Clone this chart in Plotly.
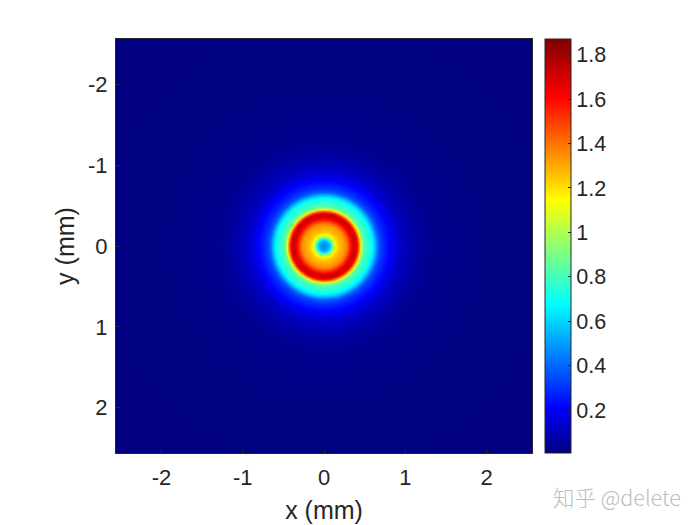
import numpy as np
import plotly.graph_objects as go

# Radial intensity profile
radius_mm = [0, 0.05, 0.074, 0.099, 0.123, 0.148, 0.172, 0.222, 0.271, 0.308, 0.345, 0.382, 0.406, 0.431, 0.45, 0.468, 0.493, 0.542, 0.591, 0.628, 0.665, 0.714, 0.80, 0.887, 0.985, 1.11, 1.232, 1.478, 1.97, 4.0]
intensity = [0.47, 0.50, 0.60, 0.82, 1.05, 1.17, 1.24, 1.30, 1.36, 1.50, 1.65, 1.72, 1.66, 1.40, 1.15, 0.95, 0.82, 0.76, 0.68, 0.55, 0.38, 0.30, 0.22, 0.15, 0.10, 0.07, 0.04, 0.025, 0.012, 0.008]

axis_ticks = [-2, -1, 0, 1, 2]
axis_labels = ["-2", "-1", "0", "1", "2"]
colorbar_ticks = [0.2, 0.4, 0.6, 0.8, 1, 1.2, 1.4, 1.6, 1.8]
colorbar_labels = ["0.2", "0.4", "0.6", "0.8", "1", "1.2", "1.4", "1.6", "1.8"]

jet = [[0, "rgb(0,0,128)"], [0.11, "rgb(0,0,255)"], [0.36, "rgb(0,255,255)"],
       [0.61, "rgb(255,255,0)"], [0.86, "rgb(255,0,0)"], [1, "rgb(128,0,0)"]]

grid = np.linspace(-2.56, 2.56, 256)
xx, yy = np.meshgrid(grid, grid)
z = np.interp(np.hypot(xx, yy), radius_mm, intensity)

FONT = "Arial"
INK = "#262626"

fig = go.Figure(go.Heatmap(
    x=grid, y=grid, z=z, zmin=0.008, zmax=1.87, colorscale=jet, zsmooth="fast",
    colorbar=dict(
        x=429 / 416, xanchor="left", xpad=0, y=0.5, yanchor="middle", ypad=0,
        thickness=26, thicknessmode="pixels", len=414, lenmode="pixels",
        tickmode="array", tickvals=colorbar_ticks, ticktext=colorbar_labels,
        ticks="inside", ticklen=3, tickcolor=INK, tickwidth=1,
        outlinecolor=INK, outlinewidth=1,
        tickfont=dict(family=FONT, size=21.5, color=INK),
    ),
))

axis_style = dict(
    range=[-2.56, 2.56], tickmode="array", tickvals=axis_ticks, ticktext=axis_labels,
    ticks="inside", ticklen=4, tickcolor=INK, showgrid=False, zeroline=False,
    showline=True, mirror=True, linecolor=INK, linewidth=1,
    tickfont=dict(family=FONT, size=22, color=INK),
)

fig.update_layout(
    width=700, height=525, paper_bgcolor="white", plot_bgcolor="white",
    margin=dict(l=108, r=176, t=31, b=80, autoexpand=False),
    xaxis=dict(axis_style, ticklabelstandoff=5,
               title=dict(text="x (mm)", standoff=12,
                          font=dict(family=FONT, size=25, color=INK))),
    yaxis=dict(axis_style, range=[2.56, -2.56], ticklabelstandoff=3,
               title=dict(text="y (mm)", standoff=6,
                          font=dict(family=FONT, size=25, color=INK))),
    annotations=[dict(
        text="知乎 @delete", xref="paper", yref="paper", x=(683 - 116) / 416, y=-43 / 414,
        xanchor="right", yanchor="middle", showarrow=False,
        font=dict(family="Noto Sans CJK SC", size=21.5, color="#bdbdbd", weight=300),
    )],
)
fig.write_html("out.html")
